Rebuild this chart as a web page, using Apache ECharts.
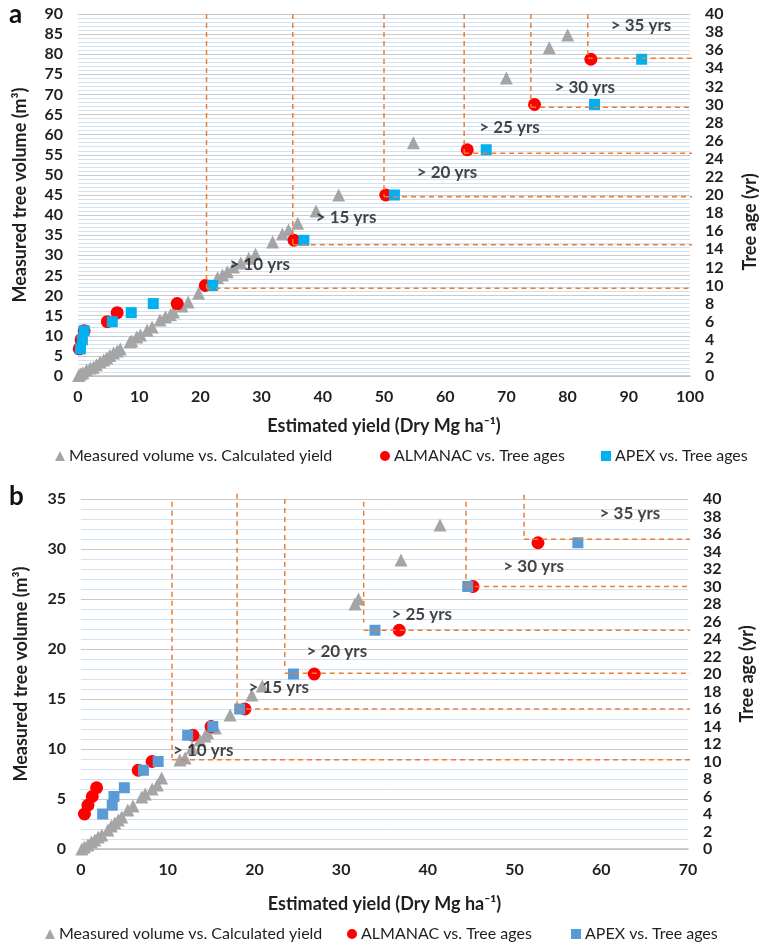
<!DOCTYPE html>
<html><head><meta charset="utf-8">
<script src="https://cdn.jsdelivr.net/npm/echarts@6/dist/echarts.min.js"></script>
<style>html,body{margin:0;padding:0;background:#fff}#c{width:769px;height:943px}</style>
</head><body><div id="c"></div>
<script>
// ---------- names ----------
const nameMeasured = 'Measured volume vs. Calculated yield';
const nameAlmanac = 'ALMANAC vs. Tree ages';
const nameApex = 'APEX vs. Tree ages';
const xTitle = 'Estimated yield (Dry Mg ha\u207B\u00B9)';
const yLeftTitle = 'Measured tree volume (m\u00B3)';
const yRightTitle = 'Tree age (yr)';

// ---------- panel a data ----------
// [calculated yield, measured volume]
const measuredA = [[0.1,0.1],[0.4,0.5],[0.8,0.8],[1.4,1.5],[2.0,2.0],[2.5,2.2],[3.0,2.8],[3.6,3.5],[4.2,4.0],[4.7,4.5],[5.2,5.1],[5.8,5.7],[6.4,6.2],[6.9,6.7],[8.5,8.5],[8.8,8.7],[9.6,9.7],[10.2,10.2],[11.3,11.4],[12.1,12.2],[13.4,13.9],[14.3,14.7],[15.1,15.2],[15.6,15.9],[17.0,17.4],[18.0,18.4],[19.7,20.6],[22.8,24.4],[23.6,25.1],[24.4,25.9],[25.4,27.1],[26.6,28.1],[27.9,29.3],[29.0,30.3],[31.8,33.3],[33.4,35.3],[34.4,36.3],[35.9,38.0],[38.9,41.0],[42.6,45.0],[54.8,58.0],[70.0,74.1],[77.0,81.6],[80.0,84.8]];
// [estimated yield, tree age]
const almanacA = [[0.2,3],[0.5,4],[1.0,5],[4.8,6],[6.4,7],[16.2,8],[20.8,10],[35.3,15],[50.3,20],[63.6,25],[74.6,30],[83.8,35]];
const apexA = [[0.4,3],[0.7,4],[1.0,5],[5.6,6],[8.7,7],[12.3,8],[22.0,10],[36.9,15],[51.7,20],[66.7,25],[84.4,30],[92.1,35]];
// age-threshold guide lines (yield where vertical line sits, age level of horizontal line)
const stepXA = [21.0,35.1,50.0,63.1,74.0,83.3];
const stepAgeA = [9.7,14.5,19.8,24.6,29.7,35.1];
// annotations (text, yield, volume)
const noteTextA = ['> 10 yrs','> 15 yrs','> 20 yrs','> 25 yrs','> 30 yrs','> 35 yrs'];
const noteXA = [29.7,43.8,60.3,70.5,82.8,92.0];
const noteYA = [27.6,39.3,50.5,61.7,71.6,87.1];

// ---------- panel b data ----------
const measuredB = [[0.1,0],[0.4,0.2],[0.8,0.4],[1.2,0.7],[1.6,0.9],[2.0,1.2],[2.4,1.4],[3.1,1.9],[3.5,2.3],[3.9,2.6],[4.3,2.9],[4.7,3.2],[5.4,3.9],[6.0,4.3],[7.0,5.2],[7.4,5.5],[8.2,6.0],[8.8,6.4],[9.3,7.1],[11.4,8.9],[12.0,9.1],[12.8,10.1],[13.7,10.9],[14.3,11.3],[14.6,11.6],[15.5,12.1],[17.2,13.4],[19.7,15.4],[20.9,16.3],[31.6,24.5],[32.0,25.0],[36.9,28.9],[41.4,32.4]];
const almanacB = [[0.4,4],[0.8,5],[1.3,6],[1.8,7],[6.6,9],[8.2,10],[12.9,13],[15.0,14],[18.9,16],[26.9,20],[36.7,25],[45.2,30],[52.7,35]];
const apexB = [[2.5,4],[3.6,5],[3.8,6],[5.0,7],[7.2,9],[8.9,10],[12.3,13],[15.2,14],[18.3,16],[24.5,20],[33.9,25],[44.6,30],[57.3,35]];
const stepXB = [10.5,18.0,23.5,32.6,44.4,51.1];
const stepTopB = [39.7,40.6,40.0,39.7,39.7,40.5];
const stepBottomB = [10.4,16.0,20.7,25.9,30.0,35.7];
const stepAgeB = [10.2,16.0,20.1,25.0,30.0,35.4];
const noteTextB = ['> 10 yrs','> 15 yrs','> 20 yrs','> 25 yrs','> 30 yrs','> 35 yrs'];
const noteXB = [14.1,22.8,29.5,39.3,52.2,63.3];
const noteYB = [9.8,16.1,19.7,23.4,28.2,33.5];

// ---------- style ----------
const FONT = 'Lato';
const TXT = '#1f1f1f';
const GRAY = '#A5A5A5', RED = '#FF0000', BLUE_A = '#00B0F0', BLUE_B = '#5B9BD5', ORANGE = '#ED7D31';

function xAxisCfg(grid, max, gap) {
  return {
    type:'value', gridIndex:grid, min:0, max:max, interval:10,
    name:xTitle, nameLocation:'middle', nameGap:gap,
    nameTextStyle:{fontFamily:FONT, fontWeight:'bold', fontSize:18, color:TXT},
    axisLine:{show:true, lineStyle:{color:'#BFBFBF', width:1.5}},
    axisTick:{show:false}, splitLine:{show:false},
    axisLabel:{fontFamily:FONT, fontWeight:'bold', fontSize:16, color:TXT, margin:13}
  };
}
function yLeftCfg(grid, max, gap) {
  return {
    type:'value', gridIndex:grid, position:'left', min:0, max:max, interval:5,
    name:yLeftTitle, nameLocation:'middle', nameGap:gap, nameRotate:90,
    nameTextStyle:{fontFamily:FONT, fontWeight:'bold', fontSize:18, color:TXT},
    axisLine:{show:false}, axisTick:{show:false},
    axisLabel:{fontFamily:FONT, fontWeight:'bold', fontSize:16, color:TXT, margin:15},
    splitLine:{show:true, lineStyle:{color:'#C9C9C9', width:1.2}},
    minorTick:{show:false, splitNumber:5},
    minorSplitLine:{show:true, lineStyle:{color:'#D3E2F3', width:1}}
  };
}
function yRightCfg(grid, name, gap) {
  return {
    type:'value', gridIndex:grid, position:'right', min:0, max:40, interval:2,
    name:name, nameLocation:'middle', nameGap:gap, nameRotate:90,
    nameTextStyle:{fontFamily:FONT, fontWeight:'bold', fontSize:18, color:TXT},
    axisLine:{show:false}, axisTick:{show:false}, splitLine:{show:false},
    axisLabel:{fontFamily:FONT, fontWeight:'bold', fontSize:16, color:TXT, margin:15}
  };
}

const series = [];
function addPanel(xi, yl, yr, measured, almanac, apex, blue, triSize) {
  series.push({name:nameMeasured, type:'scatter', xAxisIndex:xi, yAxisIndex:yl, data:measured,
    symbol:'triangle', symbolSize:triSize, itemStyle:{color:GRAY, opacity:1}, z:2, silent:true});
  series.push({name:nameAlmanac, type:'scatter', xAxisIndex:xi, yAxisIndex:yr, data:almanac,
    symbol:'circle', symbolSize:13, itemStyle:{color:RED, opacity:1}, z:3, silent:true});
  series.push({name:nameApex, type:'scatter', xAxisIndex:xi, yAxisIndex:yr, data:apex,
    symbol:'rect', symbolSize:11, itemStyle:{color:blue, opacity:1}, z:4, silent:true});
}
addPanel(0, 0, 1, measuredA, almanacA, apexA, BLUE_A, 13);
addPanel(1, 2, 3, measuredB, almanacB, apexB, BLUE_B, 13);

const dashStyle = {color:ORANGE, width:1.5, type:[5,4]};
function guide(xi, yi, pts) {
  series.push({type:'line', xAxisIndex:xi, yAxisIndex:yi, data:pts, showSymbol:false, symbol:'none',
    lineStyle:dashStyle, z:6, silent:true, clip:false, animation:false});
}
stepXA.forEach((x,i)=>{
  guide(0, 1, [[x,40],[x,stepAgeA[i]]]);
  guide(0, 1, [[x,stepAgeA[i]],[101.8,stepAgeA[i]]]);
});
stepXB.forEach((x,i)=>{
  guide(1, 3, [[x,stepTopB[i]],[x,stepBottomB[i]]]);
  guide(1, 3, [[x,stepAgeB[i]],[70.8,stepAgeB[i]]]);
});

function notes(xi, yi, texts, xs, ys) {
  series.push({type:'scatter', xAxisIndex:xi, yAxisIndex:yi, silent:true, z:8,
    symbolSize:1, itemStyle:{color:'rgba(0,0,0,0)'},
    data: texts.map((t,i)=>({name:t, value:[xs[i], ys[i]]})),
    label:{show:true, position:'inside', formatter:p=>p.name, fontFamily:FONT, fontWeight:'bold', fontSize:17, color:'#141414'}});
}
notes(0, 0, noteTextA, noteXA, noteYA);
notes(1, 2, noteTextB, noteXB, noteYB);

function legendItem(name, icon, color, left, top) {
  return {show:true, left:left, top:top, itemWidth:10, itemHeight:10, itemGap:0, selectedMode:false,
    textStyle:{fontFamily:FONT, fontSize:16, color:TXT, padding:[0,0,0,-1]},
    data:[{name:name, icon:icon, itemStyle:{color:color}}]};
}

const option = {
  animation:false,
  backgroundColor:'#fff',
  grid:[{left:78, right:79, top:14, height:362}, {left:81, right:81, top:499, height:350}],
  xAxis:[xAxisCfg(0,100,41), xAxisCfg(1,70,46)],
  yAxis:[yLeftCfg(0,90,49), yRightCfg(0,'',55), yLeftCfg(1,35,51), yRightCfg(1,yRightTitle,50)],
  legend:[
    legendItem(nameMeasured,'triangle',GRAY,50,443),
    legendItem(nameAlmanac,'circle',RED,375,443),
    legendItem(nameApex,'rect',BLUE_A,596,443),
    legendItem(nameMeasured,'triangle',GRAY,40,921),
    legendItem(nameAlmanac,'circle',RED,342,921),
    legendItem(nameApex,'rect',BLUE_B,566,921)
  ],
  graphic:[
    {type:'text', left:9, top:2, style:{text:'a', font:'bold 26px Lato', fill:'#111'}},
    {type:'text', left:9, top:484, style:{text:'b', font:'bold 26px Lato', fill:'#111'}},
    {type:'text', x:750, y:222, rotation:Math.PI/2, style:{text:yRightTitle, font:'bold 18px Lato', fill:TXT, align:'center', verticalAlign:'middle'}}
  ],
  series:series
};
const chart = echarts.init(document.getElementById('c'), null, {renderer:'canvas'});
chart.setOption(option);
</script></body></html>
